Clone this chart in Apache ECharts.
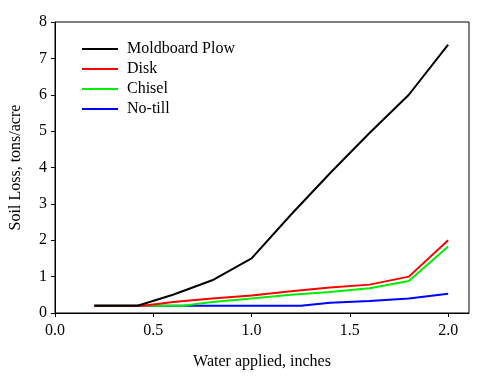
<!DOCTYPE html>
<html><head><meta charset="utf-8">
<script src="https://cdn.jsdelivr.net/npm/echarts@6/dist/echarts.min.js"></script>
<style>html,body{margin:0;padding:0;background:#fff}#c{width:484px;height:378px}</style>
</head><body><div id="c"></div>
<script>
const seriesNames = ["Moldboard Plow", "Disk", "Chisel", "No-till"];
const colors = ["#000000", "#ff0000", "#00ee00", "#0000ff"];
const moldboardX = [0.2, 0.42, 0.6, 0.8, 1.0, 1.2, 1.4, 1.6, 1.8, 2.0];
const moldboardY = [0.2, 0.2, 0.5, 0.9, 1.5, 2.7, 3.85, 4.95, 6.0, 7.38];
const diskX = [0.2, 0.45, 0.6, 0.8, 1.0, 1.2, 1.4, 1.6, 1.8, 2.0];
const diskY = [0.2, 0.2, 0.3, 0.4, 0.48, 0.6, 0.7, 0.78, 1.0, 2.0];
const chiselX = [0.2, 0.65, 0.8, 1.0, 1.2, 1.4, 1.6, 1.8, 2.0];
const chiselY = [0.2, 0.2, 0.3, 0.4, 0.5, 0.58, 0.68, 0.88, 1.83];
const notillX = [0.2, 1.25, 1.4, 1.6, 1.8, 2.0];
const notillY = [0.2, 0.2, 0.28, 0.33, 0.4, 0.53];
const xTicks = [0, 0.5, 1.0, 1.5, 2.0];
const yTicks = [0, 1, 2, 3, 4, 5, 6, 7, 8];

const zip = (xs, ys) => xs.map((x, i) => [x, ys[i]]);
const allData = [zip(moldboardX, moldboardY), zip(diskX, diskY), zip(chiselX, chiselY), zip(notillX, notillY)];
const font = "Liberation Serif";
const chart = echarts.init(document.getElementById('c'));
chart.setOption({
  animation: false,
  backgroundColor: '#fff',
  grid: { left: 52, top: 22, right: 15, bottom: 65, show: true, borderColor: '#000', borderWidth: 1 },
  legend: {
    orient: 'vertical', left: 77, top: 36, itemWidth: 36, itemHeight: 2, itemGap: 4,
    icon: 'rect',
    data: seriesNames,
    textStyle: { fontFamily: font, fontSize: 16, color: '#000', lineHeight: 16, padding: [0, 0, 0, 4] }
  },
  xAxis: {
    type: 'value', min: 0, max: 2.106,
    name: 'Water applied, inches', nameLocation: 'middle', nameGap: 41,
    nameTextStyle: { fontFamily: font, fontSize: 16, color: '#000' },
    axisLine: { show: true, lineStyle: { color: '#000' } },
    axisTick: { show: true, length: 4, customValues: xTicks, lineStyle: { color: '#000' } },
    axisLabel: { customValues: xTicks, formatter: v => v.toFixed(1), fontFamily: font, fontSize: 16, color: '#000', margin: 10 },
    splitLine: { show: false }
  },
  yAxis: {
    type: 'value', min: 0, max: 8,
    name: 'Soil Loss, tons/acre', nameLocation: 'middle', nameGap: 31,
    nameTextStyle: { fontFamily: font, fontSize: 16, color: '#000' },
    axisLine: { show: true, lineStyle: { color: '#000' } },
    axisTick: { show: true, length: 4, customValues: yTicks, lineStyle: { color: '#000' } },
    axisLabel: { customValues: yTicks, fontFamily: font, fontSize: 16, color: '#000', margin: 8 },
    splitLine: { show: false }
  },
  series: seriesNames.map((n, i) => ({
    name: n, type: 'line', data: allData[i], symbol: 'none',
    lineStyle: { color: colors[i], width: 2 }, itemStyle: { color: colors[i] },
    z: 10 - i
  }))
});
</script></body></html>
